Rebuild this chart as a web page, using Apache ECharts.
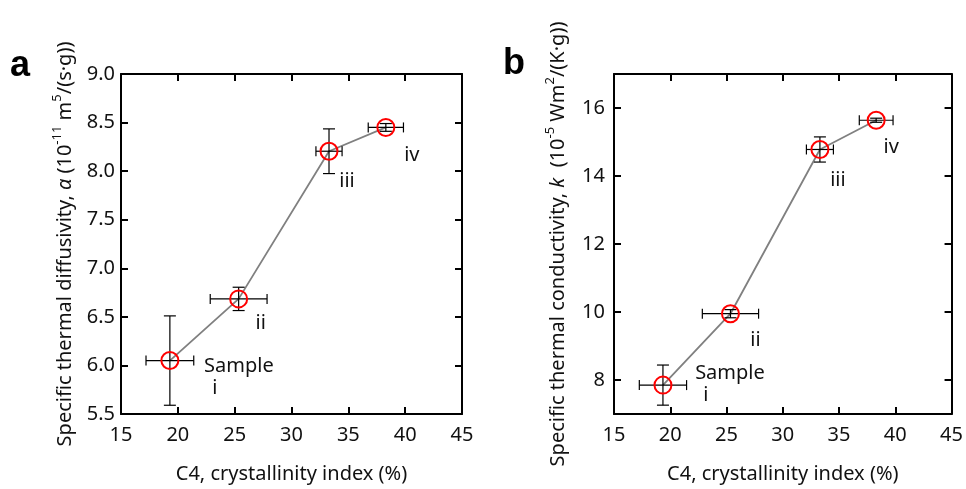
<!DOCTYPE html>
<html><head><meta charset="utf-8">
<script src="https://cdn.jsdelivr.net/npm/echarts@6/dist/echarts.min.js"></script>
<style>html,body{margin:0;padding:0;background:#fff}#c{width:966px;height:489px}</style>
</head><body><div id="c"></div>
<script>
// ---------------- data ----------------
const sampleNames = ['i', 'ii', 'iii', 'iv'];
// panel a
const crystA = [19.3, 25.35, 33.3, 38.3];
const crystErrA = [2.1, 2.5, 1.15, 1.55];
const diffusivity = [6.05, 6.685, 8.205, 8.45];
const diffusivityErr = [0.46, 0.12, 0.23, 0.04];
// panel b
const crystB = [19.35, 25.35, 33.3, 38.3];
const crystErrB = [2.1, 2.5, 1.2, 1.5];
const conductivity = [7.85, 9.95, 14.78, 15.64];
const conductivityErr = [0.59, 0.12, 0.37, 0.06];
// ticks
const xTicks = [15, 20, 25, 30, 35, 40, 45];
const yTicksA = [5.5, 6.0, 6.5, 7.0, 7.5, 8.0, 8.5, 9.0];
const yTicksB = [8, 10, 12, 14, 16];

// ---------------- styles ----------------
const FONT = 'Noto Sans';
const FS = 20;
const labelOffsetsA = [[45, 28], [22, 24], [18, 30], [26, 28]];
const sampleOffsetA = [69, 6];
const labelOffsetsB = [[43, 10], [25, 27], [18, 31], [15, 27]];
const sampleOffsetB = [67, -12];

function errRender(params, api) {
  const x = api.value(0), y = api.value(1), ex = api.value(2), ey = api.value(3);
  const l = api.coord([x - ex, y]), r = api.coord([x + ex, y]);
  const t = api.coord([x, y + ey]), b = api.coord([x, y - ey]);
  const st = { stroke: '#000', lineWidth: 1.2, fill: null };
  const cv = 6, ch = 5;
  const L = (x1, y1, x2, y2) => ({ type: 'line', shape: { x1, y1, x2, y2 }, style: st });
  return {
    type: 'group', children: [
      L(l[0], l[1], r[0], r[1]),
      L(l[0], l[1] - ch, l[0], l[1] + ch),
      L(r[0], r[1] - ch, r[0], r[1] + ch),
      L(t[0], t[1], b[0], b[1]),
      L(t[0] - cv, t[1], t[0] + cv, t[1]),
      L(b[0] - cv, b[1], b[0] + cv, b[1])
    ]
  };
}

const axisLine = { show: true, lineStyle: { color: '#000', width: 2 } };
const tickIn = { show: true, inside: true, length: 7, lineStyle: { color: '#000', width: 2 } };
const txt = { fontFamily: FONT, fontSize: FS, color: '#111' };

function makeX(gi) {
  return [
    {
      gridIndex: gi, type: 'value', min: 15, max: 45, interval: 5,
      axisLine, axisTick: tickIn, splitLine: { show: false },
      axisLabel: Object.assign({ margin: 11 }, txt),
      name: 'C4, crystallinity index (%)', nameLocation: 'middle', nameGap: 50,
      nameTextStyle: txt
    },
    {
      gridIndex: gi, type: 'value', position: 'top', min: 15, max: 45, interval: 5,
      axisLine, axisTick: tickIn, axisLabel: { show: false }, splitLine: { show: false }
    }
  ];
}

const richName = {
  n: { fontFamily: FONT, fontSize: FS, color: '#111', lineHeight: 28 },
  i: { fontFamily: FONT, fontSize: FS, color: '#111', fontStyle: 'italic', lineHeight: 28 },
  s: { fontFamily: FONT, fontSize: 13, color: '#111', verticalAlign: 'top', lineHeight: 28 }
};

const option = {
  animation: false,
  backgroundColor: '#fff',
  grid: [
    { left: 121, right: 504, top: 74, bottom: 74 },
    { left: 614, right: 11, top: 74, bottom: 74 }
  ],
  xAxis: makeX(0).concat(makeX(1)),
  yAxis: [
    {
      gridIndex: 0, type: 'value', min: 5.5, max: 9.0, interval: 0.5,
      axisLine, axisTick: tickIn, splitLine: { show: false },
      axisLabel: Object.assign({ margin: 6, formatter: v => v.toFixed(1) }, txt),
      name: '{n|Specific thermal diffusivity, }{i|α}{n| (10}{s|-11}{n| m}{s|5}{n|/(s·g))}',
      nameLocation: 'middle', nameGap: 42, nameRotate: 90,
      nameTextStyle: { rich: richName }
    },
    {
      gridIndex: 0, type: 'value', position: 'right', min: 5.5, max: 9.0, interval: 0.5,
      axisLine, axisTick: tickIn, axisLabel: { show: false }, splitLine: { show: false }
    },
    {
      gridIndex: 1, type: 'value', min: 7, max: 17,
      axisLine, axisTick: Object.assign({ customValues: yTicksB }, tickIn), splitLine: { show: false },
      axisLabel: Object.assign({ margin: 9, customValues: yTicksB }, txt),
      name: '{n|Specific thermal conductivity, }{i|k}{n|  (10}{s|-5}{n| Wm}{s|2}{n|/(K·g))}',
      nameLocation: 'middle', nameGap: 42, nameRotate: 90,
      nameTextStyle: { rich: richName }
    },
    {
      gridIndex: 1, type: 'value', position: 'right', min: 7, max: 17,
      axisLine, axisTick: Object.assign({ customValues: yTicksB }, tickIn),
      axisLabel: { show: false }, splitLine: { show: false }
    }
  ],
  graphic: [
    { type: 'text', left: 10, top: 48, style: { text: 'a', fontFamily: 'Liberation Sans', fontWeight: 'bold', fontSize: 36, fill: '#000' } },
    { type: 'text', left: 503, top: 46, style: { text: 'b', fontFamily: 'Liberation Sans', fontWeight: 'bold', fontSize: 36, fill: '#000' } }
  ],
  series: []
};

function addPanel(xi, yi, xs, xe, ys, ye, offs, sampleOff) {
  option.series.push({
    type: 'line', xAxisIndex: xi, yAxisIndex: yi, z: 1,
    data: xs.map((x, k) => [x, ys[k]]), symbol: 'none',
    lineStyle: { color: '#808080', width: 1.8 }
  });
  option.series.push({
    type: 'custom', xAxisIndex: xi, yAxisIndex: yi, z: 2,
    data: xs.map((x, k) => [x, ys[k], xe[k], ye[k]]),
    encode: { x: 0, y: 1 }, renderItem: errRender
  });
  option.series.push({
    type: 'scatter', xAxisIndex: xi, yAxisIndex: yi, z: 3,
    data: xs.map((x, k) => [x, ys[k]]), symbol: 'circle', symbolSize: 17,
    itemStyle: { color: 'rgba(0,0,0,0)', borderColor: '#ff0000', borderWidth: 2, opacity: 1 }
  });
  const labelData = xs.map((x, k) => ({
    value: [x, ys[k]], name: sampleNames[k],
    label: { offset: offs[k] }
  }));
  labelData.push({ value: [xs[0], ys[0]], name: 'Sample', label: { offset: sampleOff } });
  option.series.push({
    type: 'scatter', xAxisIndex: xi, yAxisIndex: yi, z: 4,
    data: labelData, symbolSize: 0, silent: true,
    itemStyle: { opacity: 1 },
    label: Object.assign({ show: true, position: 'inside', formatter: p => p.name }, txt)
  });
}
addPanel(0, 0, crystA, crystErrA, diffusivity, diffusivityErr, labelOffsetsA, sampleOffsetA);
addPanel(2, 2, crystB, crystErrB, conductivity, conductivityErr, labelOffsetsB, sampleOffsetB);

const chart = echarts.init(document.getElementById('c'), null, { renderer: 'canvas' });
chart.setOption(option);
</script>
</body></html>
